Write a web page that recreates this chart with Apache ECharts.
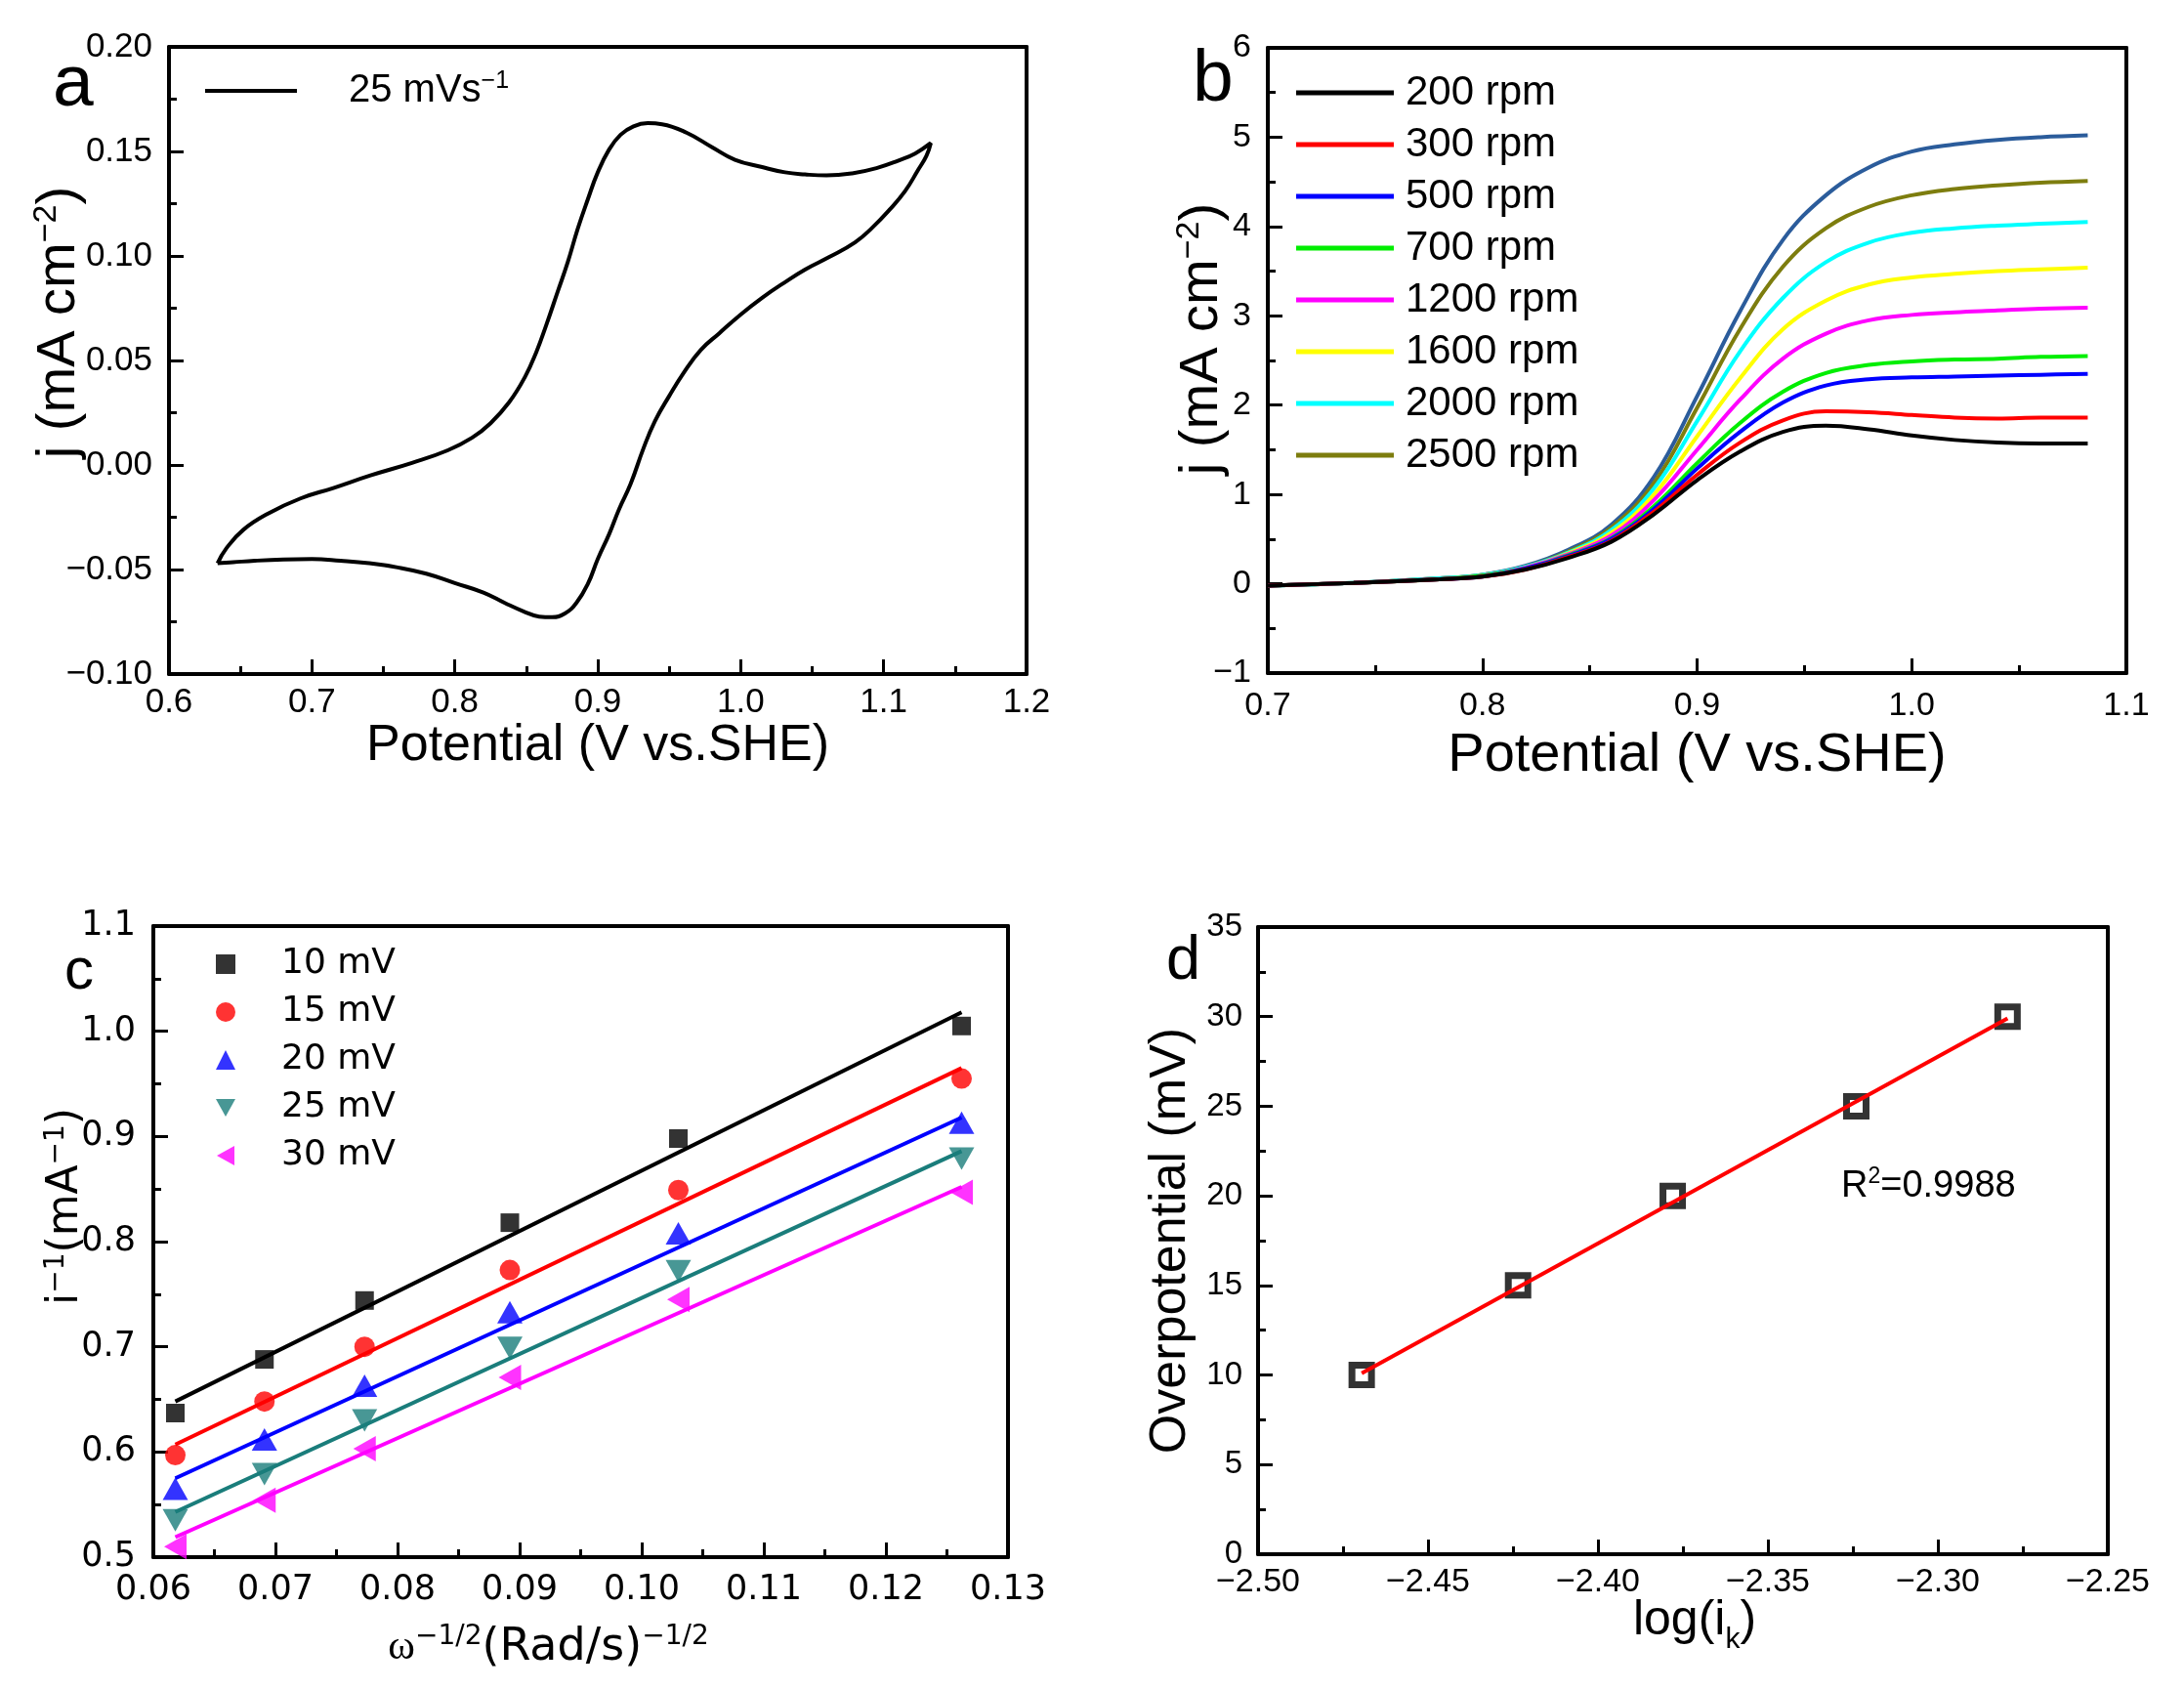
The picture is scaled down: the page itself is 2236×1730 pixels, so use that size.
<!DOCTYPE html>
<html>
<head>
<meta charset="utf-8">
<script src="https://cdn.jsdelivr.net/npm/echarts@6/dist/echarts.min.js"></script>
<style>
html,body{margin:0;padding:0;background:#fff;}
#chart{width:2236px;height:1730px;}
</style>
</head>
<body>
<div id="chart"></div>
<script>
// ---------- Panel a : cyclic voltammogram ----------
const cvPotential = [0.634,0.640,0.652,0.670,0.692,0.715,0.741,0.770,0.795,0.812,0.825,0.838,0.849,0.857,0.864,0.872,0.879,0.886,0.893,0.900,0.908,0.916,0.925,0.935,0.945,0.962,0.980,0.996,1.015,1.031,1.045,1.060,1.078,1.095,1.110,1.122,1.133,
  1.130,1.124,1.115,1.104,1.092,1.080,1.062,1.045,1.030,1.015,1.000,0.985,0.972,0.960,0.950,0.940,0.932,0.923,0.915,0.908,0.900,0.893,0.885,0.877,0.868,0.859,0.848,0.835,0.820,0.800,0.780,0.760,0.740,0.720,0.700,0.680,0.660,0.645,0.634];
const cvCurrent = [-0.047,-0.040,-0.031,-0.023,-0.016,-0.011,-0.005,0.001,0.007,0.013,0.020,0.030,0.042,0.054,0.067,0.083,0.097,0.113,0.127,0.140,0.151,0.158,0.162,0.1635,0.163,0.159,0.152,0.146,0.1425,0.140,0.139,0.1385,0.1395,0.142,0.1455,0.149,0.154,
  0.148,0.141,0.131,0.122,0.1135,0.1065,0.0995,0.0935,0.087,0.080,0.072,0.063,0.055,0.044,0.033,0.021,0.008,-0.009,-0.021,-0.033,-0.045,-0.057,-0.066,-0.071,-0.0728,-0.0725,-0.070,-0.066,-0.061,-0.0565,-0.052,-0.049,-0.047,-0.0458,-0.045,-0.0452,-0.0458,-0.0465,-0.047];
const aXTicks = ['0.6','0.7','0.8','0.9','1.0','1.1','1.2'];
const aYTicks = ['\u22120.10','\u22120.05','0.00','0.05','0.10','0.15','0.20'];

// ---------- Panel b : LSV at different rotation rates ----------
const lsvPotential = [0.70,0.74,0.78,0.80,0.82,0.84,0.86,0.88,0.90,0.92,0.94,0.96,0.98,1.00,1.02,1.04,1.06,1.082];
const lsvNames = ['200 rpm','300 rpm','500 rpm','700 rpm','1200 rpm','1600 rpm','2000 rpm','2500 rpm'];
const lsv200  = [-0.02,0.01,0.05,0.08,0.16,0.29,0.47,0.78,1.16,1.48,1.70,1.77,1.73,1.66,1.61,1.58,1.57,1.57];
const lsv300  = [-0.02,0.01,0.05,0.08,0.16,0.30,0.48,0.81,1.22,1.58,1.83,1.93,1.92,1.89,1.86,1.85,1.86,1.86];
const lsv500  = [-0.02,0.01,0.05,0.08,0.17,0.31,0.50,0.84,1.29,1.70,2.03,2.22,2.29,2.31,2.32,2.33,2.34,2.35];
const lsv700  = [-0.02,0.01,0.05,0.09,0.17,0.32,0.51,0.87,1.35,1.80,2.15,2.36,2.45,2.49,2.51,2.52,2.54,2.55];
const lsv1200 = [-0.02,0.01,0.05,0.09,0.18,0.33,0.54,0.94,1.50,2.06,2.52,2.80,2.95,3.01,3.04,3.06,3.08,3.09];
const lsv1600 = [-0.02,0.01,0.05,0.09,0.18,0.34,0.57,1.00,1.65,2.30,2.85,3.17,3.35,3.43,3.47,3.50,3.52,3.54];
const lsv2000 = [-0.02,0.01,0.06,0.10,0.19,0.35,0.60,1.07,1.82,2.60,3.20,3.60,3.82,3.93,3.98,4.01,4.03,4.05];
const lsv2500 = [-0.02,0.01,0.06,0.10,0.19,0.36,0.63,1.13,1.97,2.85,3.55,3.98,4.22,4.35,4.42,4.46,4.49,4.51];
const lsvTop  = [-0.02,0.01,0.06,0.10,0.20,0.38,0.66,1.20,2.10,3.05,3.85,4.35,4.66,4.84,4.92,4.97,5.00,5.02];
const bXTicks = ['0.7','0.8','0.9','1.0','1.1'];
const bYTicks = ['\u22121','0','1','2','3','4','5','6'];

// ---------- Panel c : Koutecky-Levich ----------
const klX = [0.0618,0.0691,0.0773,0.0892,0.1030,0.1262];
const klNames = ['10 mV','15 mV','20 mV','25 mV','30 mV'];
const kl10 = [0.637,0.688,0.744,0.818,0.898,1.005];
const kl15 = [0.597,0.648,0.700,0.773,0.849,0.955];
const kl20 = [0.565,0.612,0.663,0.733,0.808,0.913];
const kl25 = [0.535,0.579,0.630,0.699,0.772,0.879];
const kl30 = [0.510,0.554,0.603,0.671,0.745,0.847];
const klFitX = [0.0618,0.1262];
const klFit10 = [0.648,1.018];
const klFit15 = [0.607,0.965];
const klFit20 = [0.575,0.918];
const klFit25 = [0.543,0.886];
const klFit30 = [0.519,0.852];
const cXTicks = ['0.06','0.07','0.08','0.09','0.10','0.11','0.12','0.13'];
const cYTicks = ['0.5','0.6','0.7','0.8','0.9','1.0','1.1'];

// ---------- Panel d : Tafel ----------
const tafelLogIk = [-2.4695,-2.4235,-2.3780,-2.3240,-2.2795];
const tafelEta = [10,15,20,25,30];
const tafelFitX = [-2.4695,-2.2795];
const tafelFitY = [10.1,29.9];
const dXTicks = ['\u22122.50','\u22122.45','\u22122.40','\u22122.35','\u22122.30','\u22122.25'];
const dYTicks = ['0','5','10','15','20','25','30','35'];

const SANS = '"Liberation Sans", Arial, sans-serif';
const DJV = '"DejaVu Sans", sans-serif';
const SERIF = '"Liberation Serif", "DejaVu Serif", serif';

function pairs(xs, ys){ return xs.map((x,i)=>[x, ys[i]]); }

function mkAxis(grid, min, max, interval, ticks, opts){
  return {
    type:'value', gridIndex:grid, min:min, max:max, interval:interval,
    axisLine:{show:true, onZero:false, lineStyle:{color:'#000', width:4}},
    axisTick:{show:true, inside:true, length:15, lineStyle:{color:'#000', width:3}},
    minorTick:{show:true, splitNumber:2, length:8, lineStyle:{color:'#000', width:3}},
    splitLine:{show:false},
    axisLabel:{
      margin:opts.margin, color:'#000', fontSize:opts.fs, fontFamily:opts.ff,
      formatter:function(v){ return ticks[Math.round((v-min)/interval)] || ''; }
    },
    name:opts.name, nameLocation:'middle', nameGap:opts.gap, nameMoveOverlap:false,
    nameTextStyle:opts.nts
  };
}
// frame axes (top / right) : plain thick line only
function frame(grid, pos, min, max){
  return {
    type:'value', gridIndex:grid, position:pos, min:min, max:max,
    axisLine:{show:true, onZero:false, lineStyle:{color:'#000', width:4}},
    axisTick:{show:false}, axisLabel:{show:false}, splitLine:{show:false}
  };
}

const supA = {
  m:{fontSize:56, fontFamily:SANS, color:'#000', lineHeight:60},
  s:{fontSize:34, fontFamily:SANS, color:'#000', lineHeight:30, verticalAlign:'top'}
};

const option = {
  animation:false,
  backgroundColor:'#fff',
  grid:[
    {left:173, top:48, width:878, height:642},
    {left:1298, top:49, width:879, height:640},
    {left:157, top:948, width:875, height:646},
    {left:1288, top:949, width:870, height:642}
  ],
  xAxis:[
    mkAxis(0, 0.6, 1.2, 0.1, aXTicks, {margin:12, fs:35, ff:SANS, name:'Potential (V vs.SHE)', gap:48,
      nts:{fontSize:52, fontFamily:SANS, color:'#000'}}),
    mkAxis(1, 0.7, 1.1, 0.1, bXTicks, {margin:17, fs:34, ff:SANS, name:'Potential (V vs.SHE)', gap:57,
      nts:{fontSize:56, fontFamily:SANS, color:'#000'}}),
    mkAxis(2, 0.06, 0.13, 0.01, cXTicks, {margin:16, fs:35, ff:DJV,
      name:'{w|\u03c9}{s|\u22121/2}{m|(Rad/s)}{s|\u22121/2}', gap:68,
      nts:{padding:[0,66,0,0], rich:{
        w:{fontSize:42, fontFamily:SERIF, color:'#000', lineHeight:50},
        m:{fontSize:46, fontFamily:DJV, color:'#000', lineHeight:50},
        s:{fontSize:28, fontFamily:DJV, color:'#000', lineHeight:26, verticalAlign:'top'}
      }}}),
    mkAxis(3, -2.5, -2.25, 0.05, dXTicks, {margin:12, fs:34, ff:SANS,
      name:'{m|log(i}{k|k}{m|)}', gap:43,
      nts:{padding:[0,0,0,24], rich:{
        m:{fontSize:50, fontFamily:SANS, color:'#000', lineHeight:52, verticalAlign:'top'},
        k:{fontSize:30, fontFamily:SANS, color:'#000', lineHeight:60, verticalAlign:'bottom'}
      }}}),
    frame(0,'top',0.6,1.2), frame(1,'top',0.7,1.1), frame(2,'top',0.06,0.13), frame(3,'top',-2.5,-2.25)
  ],
  yAxis:[
    mkAxis(0, -0.1, 0.2, 0.05, aYTicks, {margin:17, fs:35, ff:SANS,
      name:'{m|j (mA cm}{s|\u22122}{m|)}', gap:82,
      nts:{padding:[0,0,0,78], rich:supA}}),
    mkAxis(1, -1, 6, 1, bYTicks, {margin:17, fs:34, ff:SANS,
      name:'{m|j (mA cm}{s|\u22122}{m|)}', gap:37,
      nts:{padding:[0,0,0,44], rich:supA}}),
    mkAxis(2, 0.5, 1.1, 0.1, cYTicks, {margin:18, fs:35, ff:DJV,
      name:'{m|i}{s|\u22121}{m|(mA}{s|\u22121}{m|)}', gap:65,
      nts:{padding:[0,0,0,72], rich:{
        m:{fontSize:44, fontFamily:DJV, color:'#000', lineHeight:48},
        s:{fontSize:28, fontFamily:DJV, color:'#000', lineHeight:26, verticalAlign:'top'}
      }}}),
    mkAxis(3, 0, 35, 5, dYTicks, {margin:16, fs:33, ff:SANS, name:'Overpotential (mV)', gap:63,
      nts:{fontSize:52, fontFamily:SANS, color:'#000'}}),
    frame(0,'right',-0.1,0.2), frame(1,'right',-1,6), frame(2,'right',0.5,1.1), frame(3,'right',0,35)
  ],
  legend:[
    {
      data:['25 mVs-1'], left:210, top:71, padding:0, orient:'vertical', selectedMode:false,
      icon:'rect', itemWidth:94, itemHeight:4,
      formatter:function(){ return '{m|25 mVs}{s|\u22121}'; },
      textStyle:{padding:[0,0,0,48], rich:{
        m:{fontSize:40, fontFamily:SANS, color:'#000', lineHeight:44},
        s:{fontSize:25, fontFamily:SANS, color:'#000', lineHeight:22, verticalAlign:'top'}
      }}
    },
    {
      data:lsvNames, left:1327, top:71, padding:0, orient:'vertical', selectedMode:false,
      icon:'rect', itemWidth:100, itemHeight:5, itemGap:5,
      textStyle:{fontSize:42, fontFamily:SANS, color:'#000', lineHeight:48, padding:[0,0,0,7]}
    },
    {
      data:klNames, left:221, top:967, padding:0, orient:'vertical', selectedMode:false,
      itemWidth:20, itemHeight:20, itemGap:9,
      textStyle:{fontSize:36, fontFamily:DJV, color:'#000', lineHeight:40, padding:[0,0,0,42]}
    }
  ],
  graphic:[
    {type:'text', left:54, top:50, style:{text:'a', font:'75px "Liberation Sans", Arial, sans-serif', fill:'#000'}},
    {type:'text', left:1221, top:45, style:{text:'b', font:'75px "Liberation Sans", Arial, sans-serif', fill:'#000'}},
    {type:'text', left:66, top:965, style:{text:'c', font:'60px "Liberation Sans", Arial, sans-serif', fill:'#000'}},
    {type:'text', left:1194, top:953, style:{text:'d', font:'63px "Liberation Sans", Arial, sans-serif', fill:'#000'}},
    {type:'text', left:1885, top:1193, style:{
      text:'{m|R}{s|2}{m|=0.9988}',
      rich:{
        m:{fontSize:38, fontFamily:SANS, fill:'#000', lineHeight:44},
        s:{fontSize:23, fontFamily:SANS, fill:'#000', lineHeight:22, verticalAlign:'top'}
      }}}
  ],
  series:[
    {name:'25 mVs-1', type:'line', xAxisIndex:0, yAxisIndex:0, color:'#000', showSymbol:false, smooth:0.45,
     lineStyle:{width:4, color:'#000'}, data:pairs(cvPotential, cvCurrent)},

    {name:'top', type:'line', xAxisIndex:1, yAxisIndex:1, color:'#2b5c9b', showSymbol:false, smooth:0.4, lineStyle:{width:4}, data:pairs(lsvPotential, lsvTop)},
    {name:'2500 rpm', type:'line', xAxisIndex:1, yAxisIndex:1, color:'#7d7d0e', showSymbol:false, smooth:0.4, lineStyle:{width:4}, data:pairs(lsvPotential, lsv2500)},
    {name:'2000 rpm', type:'line', xAxisIndex:1, yAxisIndex:1, color:'#00ffff', showSymbol:false, smooth:0.4, lineStyle:{width:4}, data:pairs(lsvPotential, lsv2000)},
    {name:'1600 rpm', type:'line', xAxisIndex:1, yAxisIndex:1, color:'#ffff00', showSymbol:false, smooth:0.4, lineStyle:{width:4}, data:pairs(lsvPotential, lsv1600)},
    {name:'1200 rpm', type:'line', xAxisIndex:1, yAxisIndex:1, color:'#ff00ff', showSymbol:false, smooth:0.4, lineStyle:{width:4}, data:pairs(lsvPotential, lsv1200)},
    {name:'700 rpm', type:'line', xAxisIndex:1, yAxisIndex:1, color:'#00ee00', showSymbol:false, smooth:0.4, lineStyle:{width:4}, data:pairs(lsvPotential, lsv700)},
    {name:'500 rpm', type:'line', xAxisIndex:1, yAxisIndex:1, color:'#0000ff', showSymbol:false, smooth:0.4, lineStyle:{width:4}, data:pairs(lsvPotential, lsv500)},
    {name:'300 rpm', type:'line', xAxisIndex:1, yAxisIndex:1, color:'#ff0000', showSymbol:false, smooth:0.4, lineStyle:{width:4}, data:pairs(lsvPotential, lsv300)},
    {name:'200 rpm', type:'line', xAxisIndex:1, yAxisIndex:1, color:'#000000', showSymbol:false, smooth:0.4, lineStyle:{width:4}, data:pairs(lsvPotential, lsv200)},

    {name:'fit10', type:'line', xAxisIndex:2, yAxisIndex:2, color:'#000', showSymbol:false, lineStyle:{width:4}, data:pairs(klFitX, klFit10)},
    {name:'fit15', type:'line', xAxisIndex:2, yAxisIndex:2, color:'#ff0000', showSymbol:false, lineStyle:{width:4}, data:pairs(klFitX, klFit15)},
    {name:'fit20', type:'line', xAxisIndex:2, yAxisIndex:2, color:'#0000ff', showSymbol:false, lineStyle:{width:4}, data:pairs(klFitX, klFit20)},
    {name:'fit25', type:'line', xAxisIndex:2, yAxisIndex:2, color:'#1a7d7b', showSymbol:false, lineStyle:{width:4}, data:pairs(klFitX, klFit25)},
    {name:'fit30', type:'line', xAxisIndex:2, yAxisIndex:2, color:'#ff00ff', showSymbol:false, lineStyle:{width:4}, data:pairs(klFitX, klFit30)},
    {name:'10 mV', type:'scatter', xAxisIndex:2, yAxisIndex:2, color:'#000', symbol:'rect', symbolSize:19, data:pairs(klX, kl10)},
    {name:'15 mV', type:'scatter', xAxisIndex:2, yAxisIndex:2, color:'#ff0000', symbol:'circle', symbolSize:21, data:pairs(klX, kl15)},
    {name:'20 mV', type:'scatter', xAxisIndex:2, yAxisIndex:2, color:'#0000ff', symbol:'triangle', symbolSize:[26,23], data:pairs(klX, kl20)},
    {name:'25 mV', type:'scatter', xAxisIndex:2, yAxisIndex:2, color:'#1a7d7b', symbol:'path://M0,0L20,0L10,18Z', symbolSize:[26,23], data:pairs(klX, kl25)},
    {name:'30 mV', type:'scatter', xAxisIndex:2, yAxisIndex:2, color:'#ff00ff', symbol:'path://M0,10L18,0L18,20Z', symbolSize:[23,26], data:pairs(klX, kl30)},

    {name:'tafelFit', type:'line', xAxisIndex:3, yAxisIndex:3, color:'#ff0000', showSymbol:false, lineStyle:{width:4}, data:pairs(tafelFitX, tafelFitY)},
    {name:'tafel', type:'scatter', xAxisIndex:3, yAxisIndex:3, symbol:'rect', symbolSize:20,
     itemStyle:{color:'rgba(255,255,255,0)', borderColor:'#000', borderWidth:7}, data:pairs(tafelLogIk, tafelEta)}
  ]
};

const chart = echarts.init(document.getElementById('chart'), null, {renderer:'canvas'});
chart.setOption(option);
</script>
</body>
</html>
